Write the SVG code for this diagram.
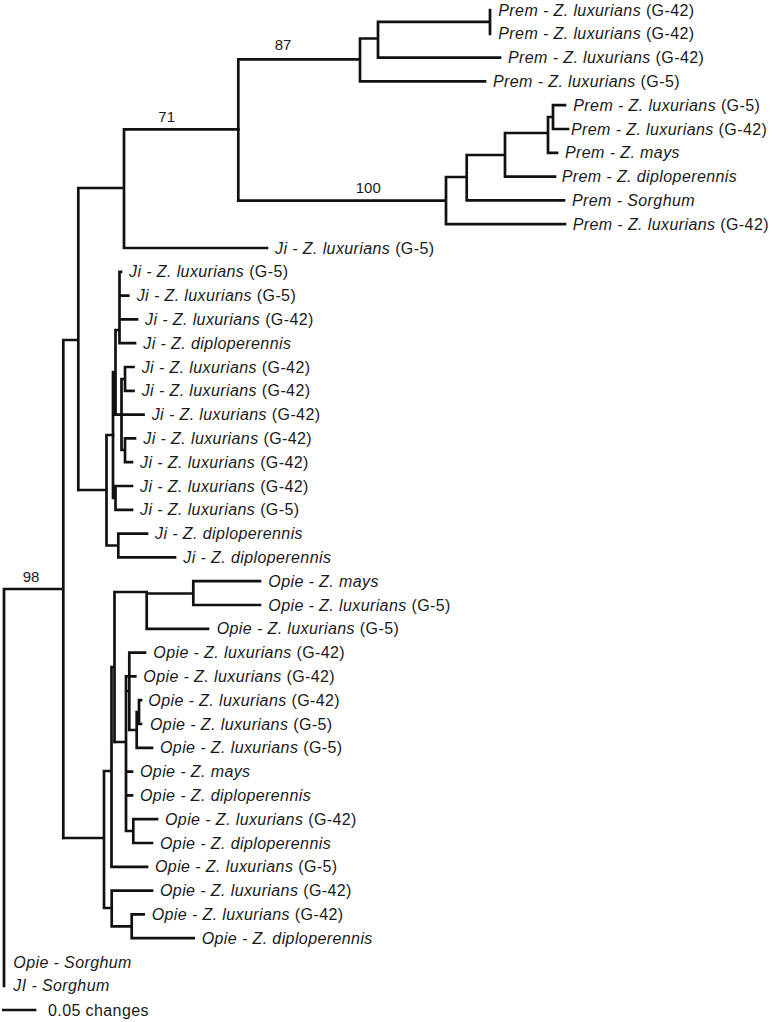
<svg xmlns="http://www.w3.org/2000/svg" width="772" height="1022" viewBox="0 0 772 1022">
<style>
.br{fill:none;stroke:#111;stroke-width:2.7;stroke-linecap:square;stroke-linejoin:miter}
.t{font-family:"Liberation Sans",Arial,sans-serif;font-size:16px;letter-spacing:0.4px;fill:#1a1a1a}
.i{font-style:italic}
.s{font-family:"Liberation Sans",Arial,sans-serif;font-size:15px;fill:#1a1a1a;text-anchor:middle}
</style>
<rect width="772" height="1022" fill="#fff"/>
<g id="connectors" class="br">
<path d="M4,589 V986 M4,589 H63.3 M63.3,340 V838 M63.3,340 H78.3 M78.3,188 V490 M78.3,188 H124 M124,129.3 V248 M124,129.3 H238.3 M124,248 H267"/>
<path d="M238.3,59.3 V200.6 M238.3,59.3 H360 M360,38.5 V81.4 M360,38.5 H378 M360,81.4 H485 M378,21.9 V57.6 M378,21.9 H490 M378,57.6 H500 M490,10 V33.8"/>
<path d="M238.3,200.6 H446 M446,177 V224.2 M446,177 H466.7 M446,224.2 H565 M466.7,155 V200.4 M466.7,155 H505 M466.7,200.4 H564 M505,133 V176.6 M505,133 H548 M505,176.6 H555 M548,117 V152.8 M548,117 H553 M548,152.8 H557 M553,105.2 V129 M553,105.2 H565 M553,129 H568"/>
<path d="M78.3,490 H106.5 M106.5,435 V545.5 M106.5,435 H113 M106.5,545.5 H118.3 M118.3,533.6 V557.4 M118.3,533.6 H147 M118.3,557.4 H175"/>
<path d="M113,372 V498 M113,372 H115.5 M113,498 H115.5 M115.5,486 V509.8 M115.5,486 H132 M115.5,509.8 H132 M115.5,330 V414.6 M115.5,330 H119.5 M115.5,414.6 H121.5 M121.5,379 V450 M121.5,379 H125 M121.5,450 H125 M121.5,414.6 H143.5 M125,367 V390.8 M125,367 H133.5 M125,390.8 H133.5 M125,438.4 V462.2 M125,438.4 H135 M125,462.2 H132 M119.5,271.8 V343.2 M119.5,271.8 H121 M119.5,295.6 H128.3 M119.5,319.4 H137 M119.5,343.2 H135"/>
<path d="M63.3,838 H104 M104,771 V908 M104,771 H111.5 M104,908 H111.7 M111.5,667 V866.8 M111.5,866.8 H147 M111.5,667 H114.5 M114.5,592 V742 M114.5,592 H146.7 M146.7,592 V628.8 M146.7,593.5 H193.3 M193.3,581.2 V605 M193.3,581.2 H260 M193.3,605 H260 M146.7,628.8 H208"/>
<path d="M114.5,742 H126 M126,676.4 V831 M126,676.4 H135.3 M126,691 H129.3 M129.3,652.6 V730 M129.3,652.6 H145 M129.3,730 H136.7 M136.7,712 V747.8 M136.7,712 H139 M139,700.2 V724 M139,700.2 H141 M139,724 H141 M136.7,747.8 H152 M126,771.6 H132 M126,795.4 H132 M126,831 H133.3 M133.3,819.2 V843 M133.3,819.2 H157 M133.3,843 H152"/>
<path d="M111.7,890.6 V926.3 M111.7,890.6 H152 M111.7,926.3 H131.7 M131.7,914.4 V938.2 M131.7,914.4 H143.7 M131.7,938.2 H193.7"/>
<path d="M3.3,1010 H35"/>
</g>
<g id="support">
<g id="s87"><text class="s" x="283" y="50">87</text></g>
<g id="s71"><text class="s" x="166.7" y="122.3">71</text></g>
<g id="s100"><text class="s" x="368.3" y="192.7">100</text></g>
<g id="s98"><text class="s" x="31" y="581.7">98</text></g>
</g>
<g id="leaves" class="t">
<g id="n0"><text x="498.3" y="15.5"><tspan class="i">Prem - Z. luxurians</tspan> (G-42)</text></g>
<g id="n1"><text x="498.3" y="39.3"><tspan class="i">Prem - Z. luxurians</tspan> (G-42)</text></g>
<g id="n2"><text x="508" y="63.1"><tspan class="i">Prem - Z. luxurians</tspan> (G-42)</text></g>
<g id="n3"><text x="493" y="86.9"><tspan class="i">Prem - Z. luxurians</tspan> (G-5)</text></g>
<g id="n4"><text x="573.3" y="110.7"><tspan class="i">Prem - Z. luxurians</tspan> (G-5)</text></g>
<g id="n5"><text x="571" y="134.5"><tspan class="i">Prem - Z. luxurians</tspan> (G-42)</text></g>
<g id="n6"><text x="565" y="158.3" class="i">Prem - Z. mays</text></g>
<g id="n7"><text x="561.7" y="182.1" class="i">Prem - Z. diploperennis</text></g>
<g id="n8"><text x="572" y="205.9" class="i">Prem - Sorghum</text></g>
<g id="n9"><text x="572.7" y="229.7"><tspan class="i">Prem - Z. luxurians</tspan> (G-42)</text></g>
<g id="n10"><text x="275" y="253.5"><tspan class="i">Ji - Z. luxurians</tspan> (G-5)</text></g>
<g id="n11"><text x="129" y="277.3"><tspan class="i">Ji - Z. luxurians</tspan> (G-5)</text></g>
<g id="n12"><text x="136.7" y="301.1"><tspan class="i">Ji - Z. luxurians</tspan> (G-5)</text></g>
<g id="n13"><text x="145" y="324.9"><tspan class="i">Ji - Z. luxurians</tspan> (G-42)</text></g>
<g id="n14"><text x="143.3" y="348.7" class="i">Ji - Z. diploperennis</text></g>
<g id="n15"><text x="141.7" y="372.5"><tspan class="i">Ji - Z. luxurians</tspan> (G-42)</text></g>
<g id="n16"><text x="141.7" y="396.3"><tspan class="i">Ji - Z. luxurians</tspan> (G-42)</text></g>
<g id="n17"><text x="151.7" y="420.1"><tspan class="i">Ji - Z. luxurians</tspan> (G-42)</text></g>
<g id="n18"><text x="143.3" y="443.9"><tspan class="i">Ji - Z. luxurians</tspan> (G-42)</text></g>
<g id="n19"><text x="140" y="467.7"><tspan class="i">Ji - Z. luxurians</tspan> (G-42)</text></g>
<g id="n20"><text x="140" y="491.5"><tspan class="i">Ji - Z. luxurians</tspan> (G-42)</text></g>
<g id="n21"><text x="140" y="515.3"><tspan class="i">Ji - Z. luxurians</tspan> (G-5)</text></g>
<g id="n22"><text x="155" y="539.1" class="i">Ji - Z. diploperennis</text></g>
<g id="n23"><text x="183.3" y="562.9" class="i">Ji - Z. diploperennis</text></g>
<g id="n24"><text x="268.3" y="586.7" class="i">Opie - Z. mays</text></g>
<g id="n25"><text x="268.3" y="610.5"><tspan class="i">Opie - Z. luxurians</tspan> (G-5)</text></g>
<g id="n26"><text x="216.7" y="634.3"><tspan class="i">Opie - Z. luxurians</tspan> (G-5)</text></g>
<g id="n27"><text x="153.3" y="658.1"><tspan class="i">Opie - Z. luxurians</tspan> (G-42)</text></g>
<g id="n28"><text x="143.3" y="681.9"><tspan class="i">Opie - Z. luxurians</tspan> (G-42)</text></g>
<g id="n29"><text x="148.3" y="705.7"><tspan class="i">Opie - Z. luxurians</tspan> (G-42)</text></g>
<g id="n30"><text x="150" y="729.5"><tspan class="i">Opie - Z. luxurians</tspan> (G-5)</text></g>
<g id="n31"><text x="160" y="753.3"><tspan class="i">Opie - Z. luxurians</tspan> (G-5)</text></g>
<g id="n32"><text x="140" y="777.1" class="i">Opie - Z. mays</text></g>
<g id="n33"><text x="140" y="800.9" class="i">Opie - Z. diploperennis</text></g>
<g id="n34"><text x="165" y="824.7"><tspan class="i">Opie - Z. luxurians</tspan> (G-42)</text></g>
<g id="n35"><text x="160" y="848.5" class="i">Opie - Z. diploperennis</text></g>
<g id="n36"><text x="155" y="872.3"><tspan class="i">Opie - Z. luxurians</tspan> (G-5)</text></g>
<g id="n37"><text x="160" y="896.1"><tspan class="i">Opie - Z. luxurians</tspan> (G-42)</text></g>
<g id="n38"><text x="151.7" y="919.9"><tspan class="i">Opie - Z. luxurians</tspan> (G-42)</text></g>
<g id="n39"><text x="201.7" y="943.7" class="i">Opie - Z. diploperennis</text></g>
<g id="n40"><text x="13.3" y="967.5" class="i">Opie - Sorghum</text></g>
<g id="n41"><text x="13.3" y="991.3" class="i">JI - Sorghum</text></g>
</g>
<g id="scale"><text class="t" x="48" y="1015.5">0.05 changes</text></g>
</svg>
